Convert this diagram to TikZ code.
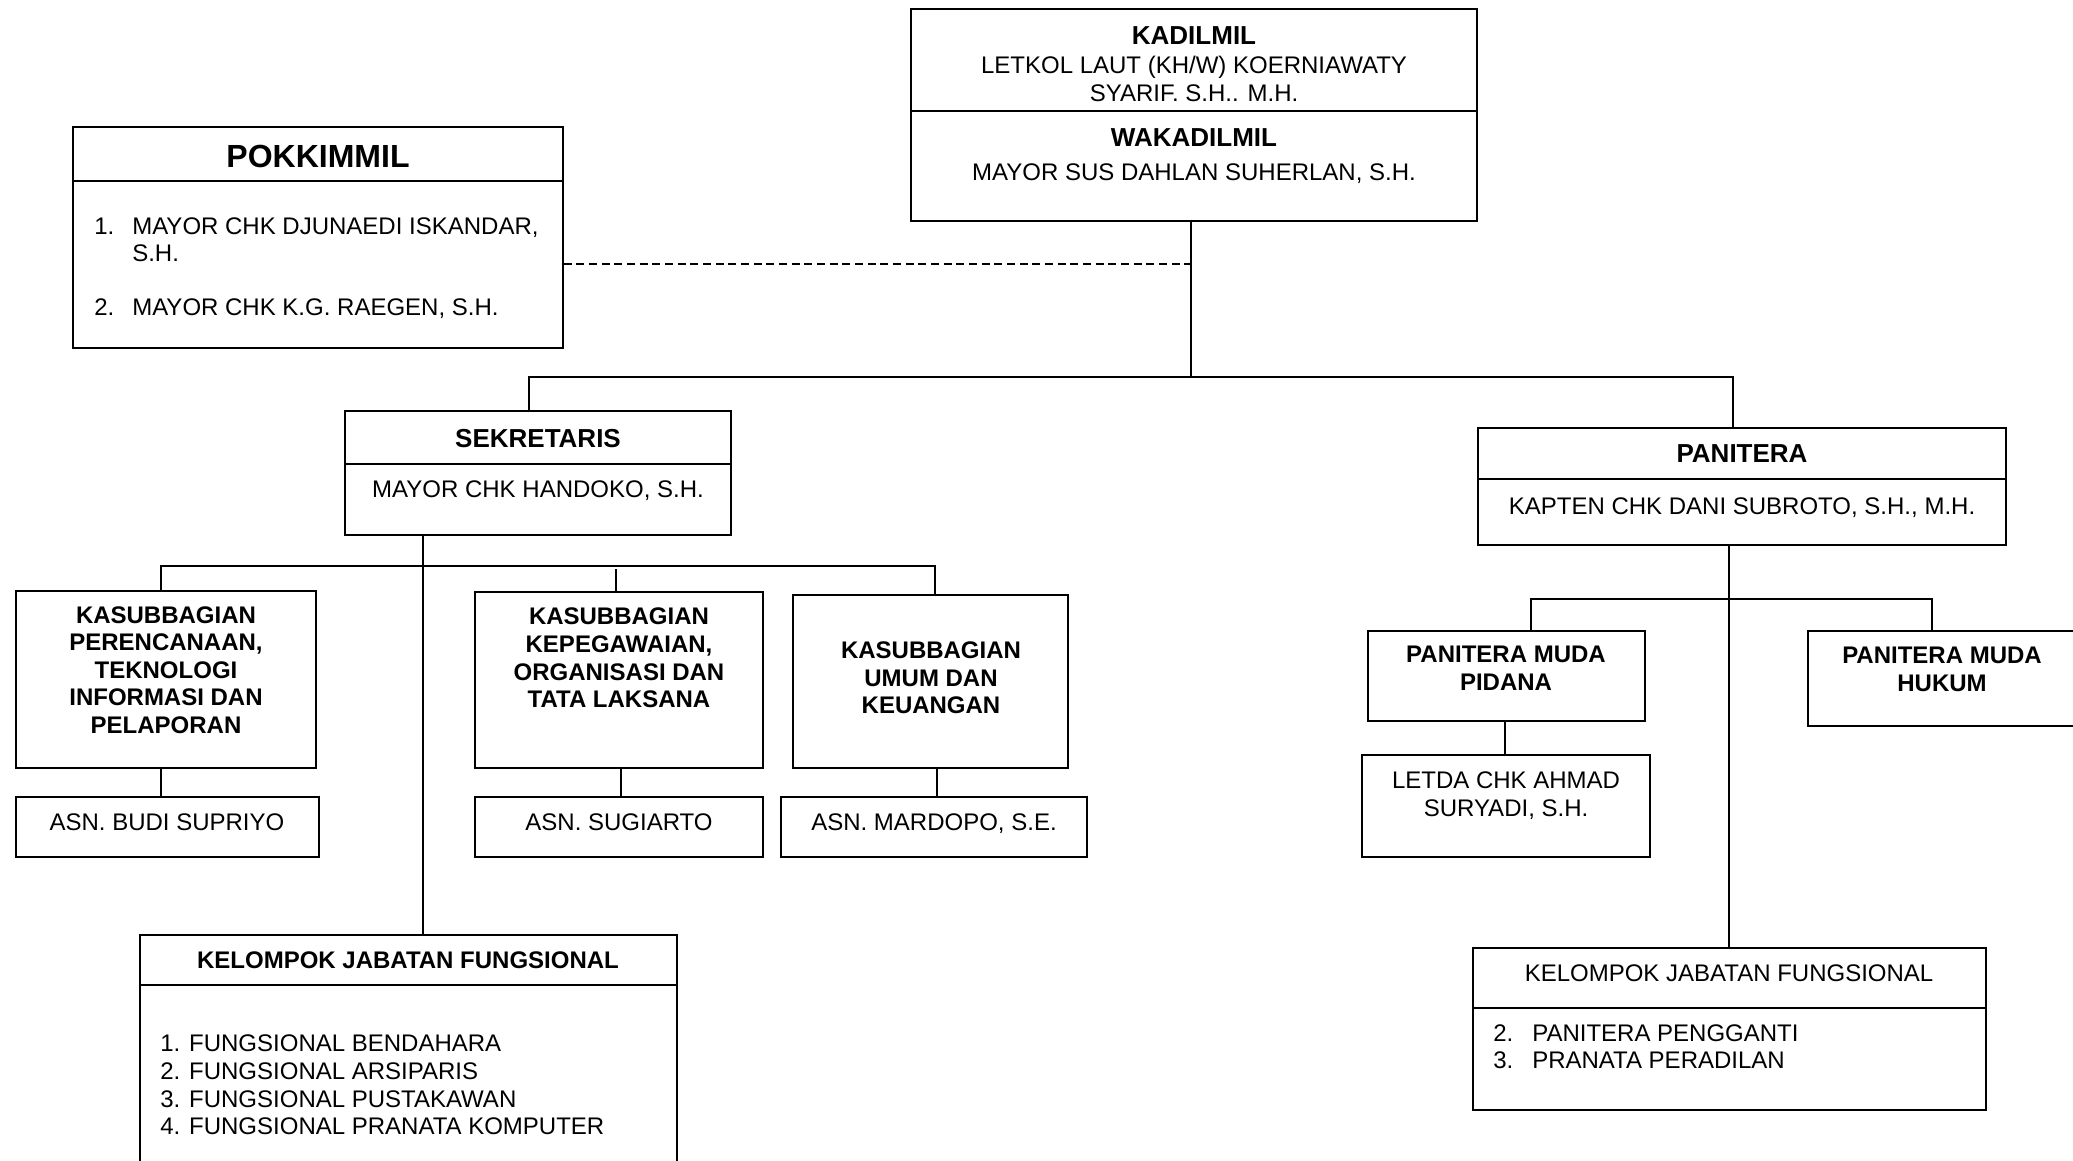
\documentclass[tikz,border=0pt]{standalone}
\usepackage{fontspec}
\setmainfont{Liberation Sans}
\usetikzlibrary{fit,calc}
\begin{document}
\begin{tikzpicture}[x=0.75pt,y=-0.75pt,
  box/.style={draw, line width=1.2pt, inner sep=0pt, rectangle},
  divl/.style={line width=1.2pt},
  conn/.style={line width=1.1pt},
  dashline/.style={line width=1.1pt, dash pattern=on 6pt off 3.5pt},
  txt/.style={inner sep=0pt, text depth=0pt, align=center, font=\fontsize{18}{20.7}\selectfont},
  ltxt/.style={txt, align=left},
  btxt/.style={txt, font=\fontsize{18}{20.7}\selectfont\bfseries},
  head/.style={txt, font=\fontsize{19.5}{22}\selectfont\bfseries},
  bigt/.style={txt, font=\fontsize{24}{28}\selectfont\bfseries},
]
\useasboundingbox (0,0) rectangle (2073,1160);
\fill[white] (0,0) rectangle (2073,1160);

% ---------- boxes ----------
\node[box, fit={(911,9)(1477,221)}] (kad) {};
\node[box, fit={(73,127)(563,348)}] (pok) {};
\node[box, fit={(345,411)(731,535)}] (sek) {};
\node[box, fit={(1478,428)(2006,545)}] (pan) {};
\node[box, fit={(16,591)(316,768)}] (k1) {};
\node[box, fit={(475,592)(763,768)}] (k2) {};
\node[box, fit={(793,595)(1068,768)}] (k3) {};
\node[box, fit={(16,797)(319,857)}] (a1) {};
\node[box, fit={(475,797)(763,857)}] (a2) {};
\node[box, fit={(781,797)(1087,857)}] (a3) {};
\node[box, fit={(140,935)(677,1185)}] (kelL) {};
\node[box, fit={(1368,631)(1645,721)}] (pmp) {};
\node[box, fit={(1362,755)(1650,857)}] (letda) {};
\node[box, fit={(1808,631)(2095,726)}] (pmh) {};
\node[box, fit={(1473,948)(1986,1110)}] (kelR) {};

% ---------- dividers ----------
\draw[divl] (kad.west |- 0,111) -- (kad.east |- 0,111);
\draw[divl] (pok.west |- 0,181) -- (pok.east |- 0,181);
\draw[divl] (sek.west |- 0,464) -- (sek.east |- 0,464);
\draw[divl] (pan.west |- 0,479) -- (pan.east |- 0,479);
\draw[divl] (kelL.west |- 0,985) -- (kelL.east |- 0,985);
\draw[divl] (kelR.west |- 0,1008) -- (kelR.east |- 0,1008);

% ---------- texts ----------
\node[head] (kadT) at (1194,36) {KADILMIL};
\node[txt] (kadN) at (1194,79) {LETKOL LAUT (KH/W) KOERNIAWATY\\SYARIF. S.H.. M.H.};
\node[head] (wakT) at (1194,138) {WAKADILMIL};
\node[txt] (wakN) at (1194,172) {MAYOR SUS DAHLAN SUHERLAN, S.H.};

\node[bigt] (pokT) at (318,156) {POKKIMMIL};
\node[txt, anchor=west] (pok1n) at (94,226) {1.};
\node[txt, anchor=west] (pok1a) at (132,226) {MAYOR CHK DJUNAEDI ISKANDAR,};
\node[txt, anchor=west] (pok1b) at (132,253) {S.H.};
\node[txt, anchor=west] (pok2n) at (94,307) {2.};
\node[txt, anchor=west] (pok2a) at (132,307) {MAYOR CHK K.G. RAEGEN, S.H.};

\node[head] (sekT) at (538,438) {SEKRETARIS};
\node[txt] (sekN) at (538,489) {MAYOR CHK HANDOKO, S.H.};

\node[btxt] (k1T) at (166,670) {KASUBBAGIAN\\PERENCANAAN,\\TEKNOLOGI\\INFORMASI DAN\\PELAPORAN};
\node[btxt] (k2T) at (619,658) {KASUBBAGIAN\\KEPEGAWAIAN,\\ORGANISASI DAN\\TATA LAKSANA};
\node[btxt] (k3T) at (931,678) {KASUBBAGIAN\\UMUM DAN\\KEUANGAN};
\node[txt] (a1T) at (167,822) {ASN. BUDI SUPRIYO};
\node[txt] (a2T) at (619,822) {ASN. SUGIARTO};
\node[txt] (a3T) at (934,822) {ASN. MARDOPO, S.E.};

\node[btxt] (kelLT) at (408,960) {KELOMPOK JABATAN FUNGSIONAL};
\node[ltxt, anchor=west] (kelLI) at (160,1085) {1. FUNGSIONAL BENDAHARA\\2. FUNGSIONAL ARSIPARIS\\3. FUNGSIONAL PUSTAKAWAN\\4. FUNGSIONAL PRANATA KOMPUTER};

\node[head] (panT) at (1742,454) {PANITERA};
\node[txt] (panN) at (1742,506) {KAPTEN CHK DANI SUBROTO, S.H., M.H.};
\node[btxt] (pmpT) at (1506,668) {PANITERA MUDA\\PIDANA};
\node[txt] (letdaT) at (1506,794) {LETDA CHK AHMAD\\SURYADI, S.H.};
\node[btxt] (pmhT) at (1942,669) {PANITERA MUDA\\HUKUM};

\node[txt] (kelRT) at (1729,973) {KELOMPOK JABATAN FUNGSIONAL};
\node[ltxt, anchor=west] (kelRn) at (1493,1046.5) {2.\\3.};
\node[ltxt, anchor=west] (kelRI) at (1532,1046.5) {PANITERA PENGGANTI\\PRANATA PERADILAN};

% ---------- connectors ----------
\coordinate (j0) at (1191,377);
\draw[conn] (kad.south -| j0) -- (j0);
\draw[dashline] (pok.east |- 0,264) -- (j0 |- 0,264);
\draw[conn] (sek.north -| 529,0) -- (529,377) -- (1733,377) -- (pan.north -| 1733,0);

\coordinate (j1) at (423,566);
\draw[conn] (sek.south -| j1) -- (kelL.north -| j1);
\draw[conn] (k1.north -| 161,0) -- (161,566) -- (935,566) -- (k3.north -| 935,0);
\draw[conn] (616,569) -- (k2.north -| 616,0);
\draw[conn] (k1.south -| 161,0) -- (a1.north -| 161,0);
\draw[conn] (k2.south -| 621,0) -- (a2.north -| 621,0);
\draw[conn] (k3.south -| 937,0) -- (a3.north -| 937,0);

\coordinate (j2) at (1729,599);
\draw[conn] (pan.south -| j2) -- (kelR.north -| j2);
\draw[conn] (pmp.north -| 1531,0) -- (1531,599) -- (1932,599) -- (pmh.north -| 1932,0);
\draw[conn] (pmp.south -| 1505,0) -- (letda.north -| 1505,0);
\end{tikzpicture}
\end{document}
